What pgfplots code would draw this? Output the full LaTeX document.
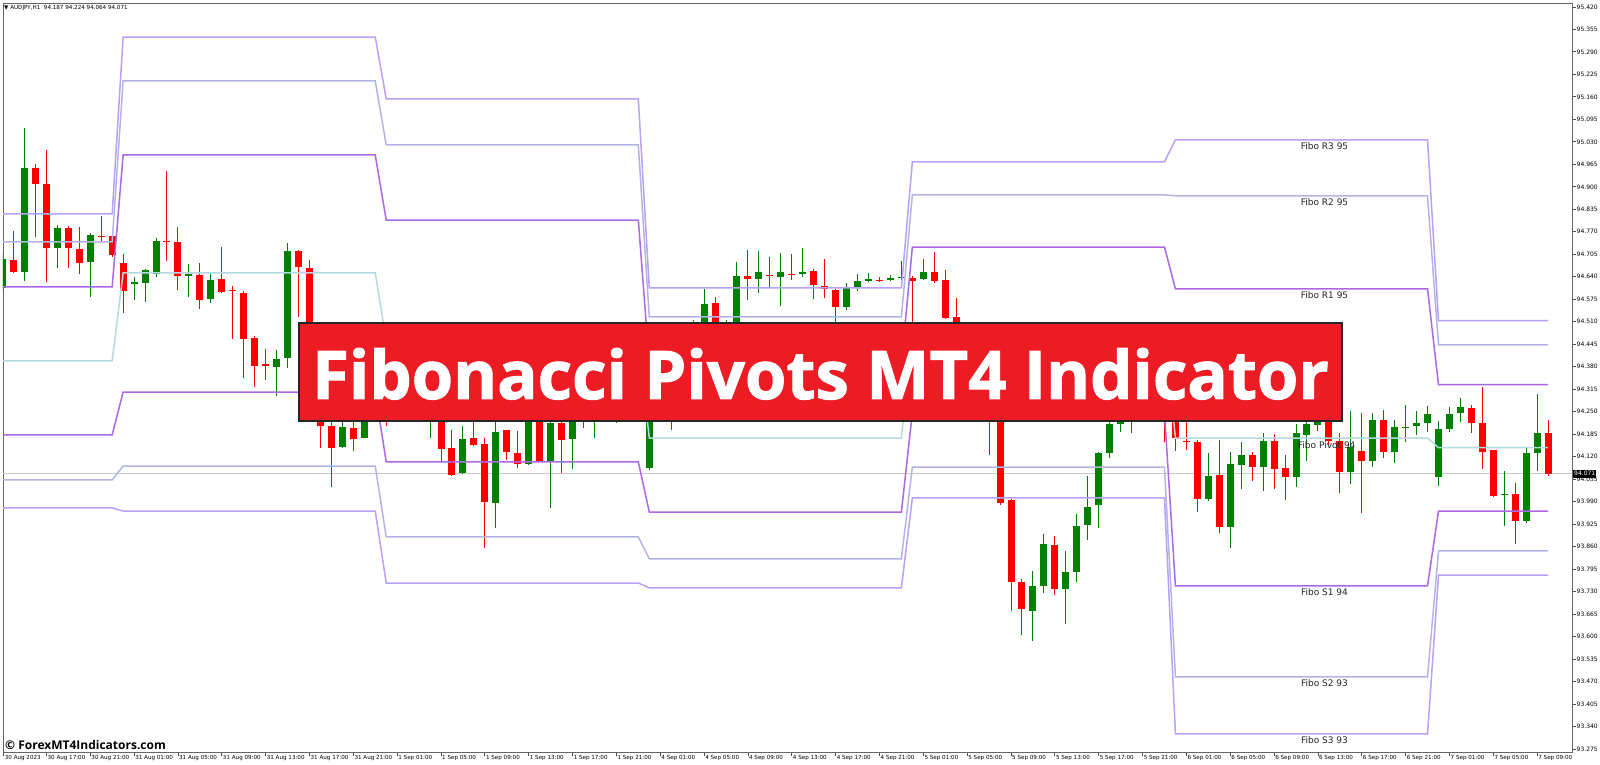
\documentclass[border=0pt]{standalone}
\usepackage{fontspec}
\setmainfont{DejaVu Sans}
\newfontfamily\osans{Open Sans}
\newfontfamily\bannerfont{Open Sans}[BoldFeatures={FakeBold=1.5}]
\usepackage{pgfplots}
\usepackage{pgfplotstable}
\usetikzlibrary{backgrounds}
\pgfplotsset{compat=1.18}
\definecolor{cGreen}{RGB}{0,128,0}
\definecolor{cRed}{RGB}{255,0,0}
\definecolor{cR3}{RGB}{185,160,250}
\definecolor{cR2}{RGB}{180,180,228}
\definecolor{cR1}{RGB}{172,104,230}
\definecolor{cPv}{RGB}{178,218,224}
\definecolor{cBanner}{RGB}{237,28,36}
\definecolor{cBid}{RGB}{200,200,200}

\pgfplotstableread{
i o h l c
-3 94.689 94.772 94.651 94.654
-1 94.955 94.966 94.755 94.908
0 94.908 95.007 94.625 94.723
2 94.781 94.787 94.665 94.723
3 94.723 94.784 94.648 94.680
5 94.759 94.816 94.741 94.757
6 94.758 94.761 94.697 94.703
7 94.680 94.706 94.535 94.599
11 94.745 94.946 94.686 94.742
12 94.741 94.784 94.602 94.642
14 94.648 94.680 94.547 94.576
16 94.634 94.726 94.593 94.596
17 94.603 94.613 94.460 94.600
18 94.596 94.599 94.348 94.463
19 94.466 94.469 94.322 94.385
20 94.389 94.431 94.342 94.386
23 94.715 94.718 94.524 94.668
24 94.668 94.691 94.298 94.327
25 94.327 94.356 94.145 94.209
26 94.209 94.226 94.033 94.145
28 94.203 94.232 94.137 94.171
31 94.356 94.385 94.209 94.270
33 94.327 94.371 94.249 94.284
34 94.284 94.313 94.232 94.255
36 94.284 94.313 94.102 94.142
37 94.145 94.197 94.064 94.067
39 94.174 94.220 94.151 94.154
40 94.157 94.174 93.856 93.992
42 94.197 94.200 94.111 94.134
43 94.131 94.197 94.090 94.099
45 94.255 94.284 94.105 94.108
47 94.218 94.255 94.073 94.168
49 94.298 94.327 94.203 94.249
51 94.298 94.342 94.241 94.270
54 94.371 94.400 94.298 94.342
57 94.356 94.385 94.197 94.284
59 94.385 94.515 94.298 94.342
61 94.564 94.582 94.428 94.457
64 94.642 94.718 94.573 94.634
66 94.647 94.697 94.611 94.644
68 94.650 94.706 94.631 94.647
70 94.657 94.663 94.576 94.616
71 94.616 94.691 94.579 94.605
72 94.602 94.605 94.509 94.553
76 94.632 94.639 94.625 94.629
79 94.637 94.642 94.486 94.628
81 94.654 94.712 94.622 94.628
82 94.631 94.660 94.518 94.521
83 94.524 94.579 94.385 94.414
84 94.414 94.443 94.298 94.327
86 94.365 94.385 94.125 94.255
87 94.255 94.284 93.981 93.986
88 93.995 93.998 93.674 93.758
89 93.758 93.767 93.605 93.680
92 93.865 93.891 93.720 93.738
100 94.284 94.327 94.232 94.255
102 94.298 94.319 94.163 94.255
103 94.249 94.270 94.139 94.174
104 94.167 94.226 94.139 94.164
105 94.163 94.168 93.960 93.998
107 94.067 94.168 93.900 93.917
110 94.125 94.134 94.050 94.090
112 94.166 94.186 94.027 94.087
113 94.087 94.125 93.995 94.061
117 94.249 94.270 94.154 94.166
118 94.166 94.189 94.015 94.076
120 94.137 94.246 93.957 94.108
122 94.226 94.255 94.116 94.134
130 94.261 94.272 94.189 94.218
131 94.218 94.322 94.085 94.134
132 94.139 94.141 94.004 94.007
134 94.012 94.044 93.868 93.934
137 94.189 94.226 94.064 94.071
}\bear

\pgfplotstableread{
i o h l c
-4 94.608 94.712 94.593 94.691
-2 94.654 95.070 94.628 94.955
1 94.723 94.790 94.665 94.781
4 94.683 94.767 94.582 94.761
8 94.619 94.639 94.573 94.625
9 94.622 94.663 94.570 94.660
10 94.651 94.752 94.639 94.744
13 94.642 94.677 94.582 94.648
15 94.576 94.648 94.564 94.631
21 94.382 94.428 94.296 94.405
22 94.405 94.738 94.379 94.715
27 94.148 94.241 94.145 94.206
29 94.177 94.313 94.177 94.284
30 94.284 94.371 94.255 94.342
32 94.270 94.356 94.241 94.327
35 94.241 94.327 94.174 94.298
38 94.073 94.209 94.070 94.174
41 93.989 94.220 93.914 94.194
44 94.099 94.284 94.096 94.255
46 94.105 94.255 93.972 94.218
48 94.174 94.270 94.087 94.241
50 94.249 94.327 94.174 94.298
52 94.270 94.356 94.218 94.313
53 94.313 94.400 94.284 94.371
55 94.087 94.327 94.082 94.298
56 94.298 94.400 94.270 94.356
58 94.270 94.400 94.249 94.371
60 94.400 94.605 94.327 94.561
62 94.501 94.515 94.457 94.509
63 94.472 94.683 94.457 94.642
65 94.634 94.715 94.593 94.654
67 94.639 94.709 94.556 94.654
69 94.651 94.724 94.639 94.655
73 94.553 94.622 94.544 94.608
74 94.611 94.648 94.599 94.628
75 94.628 94.651 94.625 94.634
77 94.632 94.645 94.628 94.637
78 94.637 94.686 94.631 94.642
80 94.634 94.691 94.631 94.654
85 94.313 94.400 94.284 94.371
90 93.674 93.790 93.588 93.746
91 93.746 93.897 93.726 93.868
93 93.738 93.848 93.637 93.787
94 93.787 93.955 93.758 93.920
95 93.923 94.064 93.879 93.975
96 93.981 94.134 93.914 94.131
97 94.131 94.226 94.119 94.215
98 94.215 94.284 94.192 94.255
99 94.241 94.313 94.189 94.284
101 94.255 94.327 94.232 94.298
106 93.998 94.131 93.992 94.064
108 93.917 94.134 93.856 94.099
109 94.096 94.163 94.027 94.125
111 94.090 94.189 94.021 94.166
114 94.061 94.215 94.033 94.189
115 94.183 94.246 94.108 94.215
116 94.212 94.270 94.197 94.241
119 94.076 94.255 94.044 94.148
121 94.108 94.246 94.090 94.226
123 94.134 94.226 94.102 94.206
124 94.204 94.270 94.163 94.208
125 94.209 94.252 94.183 94.218
126 94.218 94.267 94.194 94.246
127 94.061 94.223 94.035 94.200
128 94.203 94.264 94.192 94.246
129 94.246 94.290 94.220 94.264
133 94.011 94.079 93.920 94.014
135 93.934 94.148 93.929 94.131
136 94.131 94.301 94.079 94.189
}\bull

\begin{document}
\begin{tikzpicture}[x=1pt,y=1pt]
\begin{axis}[
  name=ax, scale only axis,
  width=1569pt, height=749pt,
  xmin=-3.96, xmax=139.18, ymin=93.2666, ymax=95.4313,
  clip mode=individual,
  axis line style={draw=black!60, line width=0.8pt},
  tick align=outside, major tick length=4pt,
  tick style={black!70, line width=0.8pt},
  xtick pos=left, ytick pos=right, yticklabel pos=right,
  scaled y ticks=false,
  xtick={-3.9,0,4,8,12,16,20,24,28,32,36,40,44,48,52,56,60,64,68,72,76,80,84,88,92,96,100,104,108,112,116,120,124,128,132,136},
  xticklabels={30 Aug 2023,30 Aug 17:00,30 Aug 21:00,31 Aug 01:00,31 Aug 05:00,31 Aug 09:00,31 Aug 13:00,31 Aug 17:00,31 Aug 21:00,1 Sep 01:00,1 Sep 05:00,1 Sep 09:00,1 Sep 13:00,1 Sep 17:00,1 Sep 21:00,4 Sep 01:00,4 Sep 05:00,4 Sep 09:00,4 Sep 13:00,4 Sep 17:00,4 Sep 21:00,5 Sep 01:00,5 Sep 05:00,5 Sep 09:00,5 Sep 13:00,5 Sep 17:00,5 Sep 21:00,6 Sep 01:00,6 Sep 05:00,6 Sep 09:00,6 Sep 13:00,6 Sep 17:00,6 Sep 21:00,7 Sep 01:00,7 Sep 05:00,7 Sep 09:00},
  ytick={93.275,93.340,93.405,93.470,93.535,93.600,93.665,93.730,93.795,93.860,93.925,93.990,94.055,94.120,94.185,94.250,94.315,94.380,94.445,94.510,94.575,94.640,94.705,94.770,94.835,94.900,94.965,95.030,95.095,95.160,95.225,95.290,95.355,95.420},
  xticklabel style={font=\fontsize{5.6}{6}\selectfont, anchor=north west, inner sep=0pt, xshift=1pt, yshift=1pt},
  yticklabel style={font=\fontsize{6}{7}\selectfont, anchor=west, inner sep=0pt, xshift=0.5pt,
    /pgf/number format/fixed, /pgf/number format/fixed zerofill, /pgf/number format/precision=3,
    /pgf/number format/assume math mode=true},
]
% bid line
\addplot[draw=cBid, line width=1pt, forget plot] coordinates {(-5,94.071) (140,94.071)};
% wicks
\addplot[draw=none, no markers, forget plot, error bars/.cd, y dir=both, y explicit, error mark=none,
  error bar style={draw=cRed, line width=1pt}]
  table[x=i, y expr={(\thisrow{h}+\thisrow{l})/2}, y error expr={(\thisrow{h}-\thisrow{l})/2}] {\bear};
\addplot[draw=none, no markers, forget plot, error bars/.cd, y dir=both, y explicit, error mark=none,
  error bar style={draw=cGreen, line width=1pt}]
  table[x=i, y expr={(\thisrow{h}+\thisrow{l})/2}, y error expr={(\thisrow{h}-\thisrow{l})/2}] {\bull};
% bodies
\addplot[draw=none, no markers, forget plot, error bars/.cd, y dir=both, y explicit, error mark=none,
  error bar style={draw=cRed, line width=7pt}]
  table[x=i, y expr={(\thisrow{o}+\thisrow{c})/2}, y error expr={abs(\thisrow{o}-\thisrow{c})/2}] {\bear};
\addplot[draw=none, no markers, forget plot, error bars/.cd, y dir=both, y explicit, error mark=none,
  error bar style={draw=cGreen, line width=7pt}]
  table[x=i, y expr={(\thisrow{o}+\thisrow{c})/2}, y error expr={abs(\thisrow{o}-\thisrow{c})/2}] {\bull};
% pivot lines
\addplot[cR3, line width=1.5pt, forget plot] coordinates {(-4,94.822) (6,94.822) (7,95.333) (30,95.333) (31,95.154) (54,95.154) (55,94.608) (78,94.608) (79,94.972) (102,94.972) (103,95.036) (126,95.036) (127,94.513) (137,94.513)};
\addplot[cR2, line width=1.5pt, forget plot] coordinates {(-4,94.741) (6,94.741) (7,95.206) (30,95.206) (31,95.021) (54,95.021) (55,94.524) (78,94.524) (79,94.877) (102,94.877) (103,94.874) (126,94.874) (127,94.443) (137,94.443)};
\addplot[cR1, line width=1.5pt, forget plot] coordinates {(-4,94.611) (6,94.611) (7,94.992) (30,94.992) (31,94.804) (54,94.804) (55,94.388) (78,94.388) (79,94.726) (102,94.726) (103,94.605) (126,94.605) (127,94.328) (137,94.328)};
\addplot[cPv, line width=1.5pt, forget plot] coordinates {(-4,94.397) (6,94.397) (7,94.651) (30,94.651) (31,94.455) (54,94.455) (55,94.174) (78,94.174) (79,94.486) (102,94.486) (103,94.174) (126,94.174) (127,94.146) (137,94.146)};
\addplot[cR1, line width=1.5pt, forget plot] coordinates {(-4,94.183) (6,94.183) (7,94.307) (30,94.307) (31,94.105) (54,94.105) (55,93.960) (78,93.960) (79,94.247) (102,94.247) (103,93.747) (126,93.747) (127,93.963) (137,93.963)};
\addplot[cR2, line width=1.5pt, forget plot] coordinates {(-4,94.053) (6,94.053) (7,94.093) (30,94.093) (31,93.888) (54,93.888) (55,93.825) (78,93.825) (79,94.090) (102,94.090) (103,93.484) (126,93.484) (127,93.848) (137,93.848)};
\addplot[cR3, line width=1.5pt, forget plot] coordinates {(-4,93.972) (6,93.972) (7,93.963) (30,93.963) (31,93.755) (54,93.755) (55,93.741) (78,93.741) (79,94.001) (102,94.001) (103,93.319) (126,93.319) (127,93.778) (137,93.778)};
% labels
\node[font=\fontsize{9}{10}\selectfont, text=black!85, anchor=north, inner sep=0pt, yshift=-3pt] at (axis cs:116.6,95.036) {Fibo R3 95};
\node[font=\fontsize{9}{10}\selectfont, text=black!85, anchor=north, inner sep=0pt, yshift=-3pt] at (axis cs:116.6,94.874) {Fibo R2 95};
\node[font=\fontsize{9}{10}\selectfont, text=black!85, anchor=north, inner sep=0pt, yshift=-3pt] at (axis cs:116.6,94.605) {Fibo R1 95};
\node[font=\fontsize{9}{10}\selectfont, text=black!85, anchor=north, inner sep=0pt, yshift=-3pt] at (axis cs:116.8,94.174) {Fibo Pivot 94};
\node[font=\fontsize{9}{10}\selectfont, text=black!85, anchor=north, inner sep=0pt, yshift=-3pt] at (axis cs:116.6,93.747) {Fibo S1 94};
\node[font=\fontsize{9}{10}\selectfont, text=black!85, anchor=north, inner sep=0pt, yshift=-3pt] at (axis cs:116.6,93.484) {Fibo S2 93};
\node[font=\fontsize{9}{10}\selectfont, text=black!85, anchor=north, inner sep=0pt, yshift=-3pt] at (axis cs:116.6,93.319) {Fibo S3 93};
\coordinate (BL) at (rel axis cs:0,0);
\end{axis}
\begin{scope}[shift={(BL)}, xshift=-3pt, yshift=-13pt]
% header
\node[anchor=west, font=\fontsize{5.6}{6}\selectfont, inner sep=0pt] at (4,757) {▼ AUDJPY,H1\ \ 94.187 94.224 94.064 94.071};
% watermark
\node[anchor=west, font=\osans\bfseries\fontsize{12}{14}\selectfont, inner sep=0pt] at (5,20) {© ForexMT4Indicators.com};
% banner
\draw[fill=cBanner, draw=black!85, line width=2pt] (299,344) rectangle (1342,442);
\node[anchor=base, font=\bannerfont\bfseries\fontsize{67}{70}\selectfont, text=white, inner sep=0pt] at (820.5,366) {Fibonacci Pivots MT4 Indicator};
% price box
\node[anchor=west, fill=black, text=white, font=\fontsize{6}{7}\selectfont, inner sep=1pt, minimum height=8pt] at (1573,291.3) {94.071};
\end{scope}
\pgfresetboundingbox
\path[use as bounding box, shift={(BL)}, xshift=-3pt, yshift=-13pt] (0,0) rectangle (1600,765);
\begin{scope}[on background layer]
\fill[white, shift={(BL)}, xshift=-3pt, yshift=-13pt] (0,0) rectangle (1600,765);
\end{scope}
\end{tikzpicture}
\end{document}
